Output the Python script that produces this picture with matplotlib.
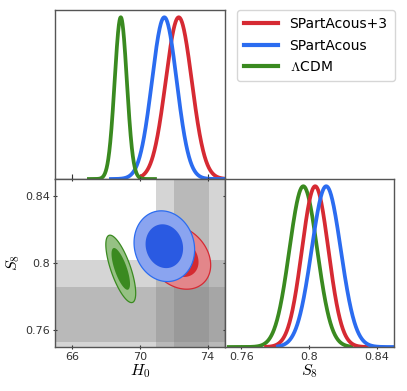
import numpy as np
import matplotlib
matplotlib.use("Agg")
import matplotlib.pyplot as plt
from matplotlib.lines import Line2D

plt.rcParams['font.family'] = ['DejaVu Sans']
plt.rcParams['mathtext.fontset'] = 'cm'

# posterior summaries
models = ["SPartAcous+3", "SPartAcous", r"$\Lambda$CDM"]
colors = ["#d62a33", "#2b6cf0", "#3a8a20"]
inner = ["#d42a30", "#2a5ae2", "#3a8a20"]
pale = ["#e3868a", "#8aa4f0", "#96c184"]

h0_mean = [72.3, 71.45, 68.88]
h0_sig = [0.77, 0.73, 0.36]
s8_mean = [0.8035, 0.810, 0.7965]
s8_sig = [0.0078, 0.0086, 0.0082]
rho = [-0.25, -0.10, -0.72]

# ranges over which the 1D curves are drawn
h0_range = [(70.0, 75.0), (68.3, 75.0), (67.0, 70.9)]
s8_range = [(0.7745, 0.834), (0.7815, 0.85), (0.7525, 0.825)]

# reference bands (1 sigma / 2 sigma)
h0_band = [(72.0, 74.08), (70.96, 75.12)]
s8_band = [(0.7531, 0.7855), (0.7369, 0.8017)]

h0_lim = (65, 75)
s8_lim = (0.75, 0.85)
h0_ticks = [66, 70, 74]
s8_ticks = [0.76, 0.8, 0.84]

W, H = 407, 391
fig = plt.figure(figsize=(W / 100, H / 100), dpi=100)

def frac(x0, y0, x1, y1):
    return [x0 / W, 1 - y1 / H, (x1 - x0) / W, (y1 - y0) / H]

ax_h = fig.add_axes(frac(55, 10, 224.5, 179))
ax_2d = fig.add_axes(frac(55, 179, 224.5, 347))
ax_s = fig.add_axes(frac(224.5, 179, 394, 347))

for ax in (ax_h, ax_2d, ax_s):
    for sp in ax.spines.values():
        sp.set_color("#555555")
        sp.set_linewidth(1.0)
    ax.tick_params(direction="inout", length=3.5, width=0.8, labelsize=8,
                   colors="#333333", pad=2)

lw = 2.7
# 1D H0
for i in range(3):
    x = np.linspace(*h0_range[i], 400)
    ax_h.plot(x, np.exp(-0.5 * ((x - h0_mean[i]) / h0_sig[i]) ** 2), color=colors[i], lw=lw)
ax_h.set_xlim(*h0_lim)
ax_h.set_ylim(0, 1.045)
ax_h.set_xticks(h0_ticks)
ax_h.set_xticklabels([])
ax_h.set_yticks([])
ax_h.tick_params(direction="in")

# 1D S8
for i in [2, 0, 1]:
    x = np.linspace(*s8_range[i], 400)
    ax_s.plot(x, np.exp(-0.5 * ((x - s8_mean[i]) / s8_sig[i]) ** 2), color=colors[i], lw=lw)
ax_s.set_xlim(*s8_lim)
ax_s.set_ylim(0, 1.045)
ax_s.set_xticks(s8_ticks)
ax_s.set_xticklabels(["0.76", "0.8", "0.84"])
ax_s.set_yticks([])
ax_s.set_xlabel(r"$S_8$", fontsize=11.5, labelpad=0)

# 2D
for lo, hi in h0_band:
    ax_2d.axvspan(lo, hi, color="#808080", alpha=0.33, lw=0, zorder=0)
for lo, hi in s8_band:
    ax_2d.axhspan(lo, hi, color="#808080", alpha=0.33, lw=0, zorder=0)

gx, gy = np.meshgrid(np.linspace(*h0_lim, 300), np.linspace(*s8_lim, 300))
for i in [0, 1, 2]:
    u = (gx - h0_mean[i]) / h0_sig[i]
    v = (gy - s8_mean[i]) / s8_sig[i]
    r = rho[i]
    q = (u ** 2 - 2 * r * u * v + v ** 2) / (1 - r ** 2)
    ax_2d.contourf(gx, gy, q, levels=[-1, 5.99], colors=[pale[i]], zorder=2 + i,
                   antialiased=True)
    ax_2d.contourf(gx, gy, q, levels=[-1, 2.30], colors=[inner[i]], zorder=2 + i,
                   antialiased=True)
    ax_2d.contour(gx, gy, q, levels=[5.99], colors=[colors[i]],
                  linewidths=0.9, zorder=2 + i)
ax_2d.set_xlim(*h0_lim)
ax_2d.set_ylim(*s8_lim)
ax_2d.set_xticks(h0_ticks)
ax_2d.set_yticks(s8_ticks)
ax_2d.set_yticklabels(["0.76", "0.8", "0.84"])
ax_2d.tick_params(right=True, top=True)
ax_2d.set_xlabel(r"$H_0$", fontsize=11.5, labelpad=0)
ax_2d.set_ylabel(r"$S_8$", fontsize=11.5, labelpad=2)

handles = [Line2D([], [], color=c, lw=3) for c in colors]
fig.legend(handles, models, loc="upper right", bbox_to_anchor=(394.5 / W, 1 - 10 / H),
           borderaxespad=0, fontsize=10, handlelength=2.5, handletextpad=0.8,
           labelspacing=0.55, borderpad=0.5, frameon=True, edgecolor="#cccccc",
           fancybox=True)

fig.savefig("out.png", dpi=100)
